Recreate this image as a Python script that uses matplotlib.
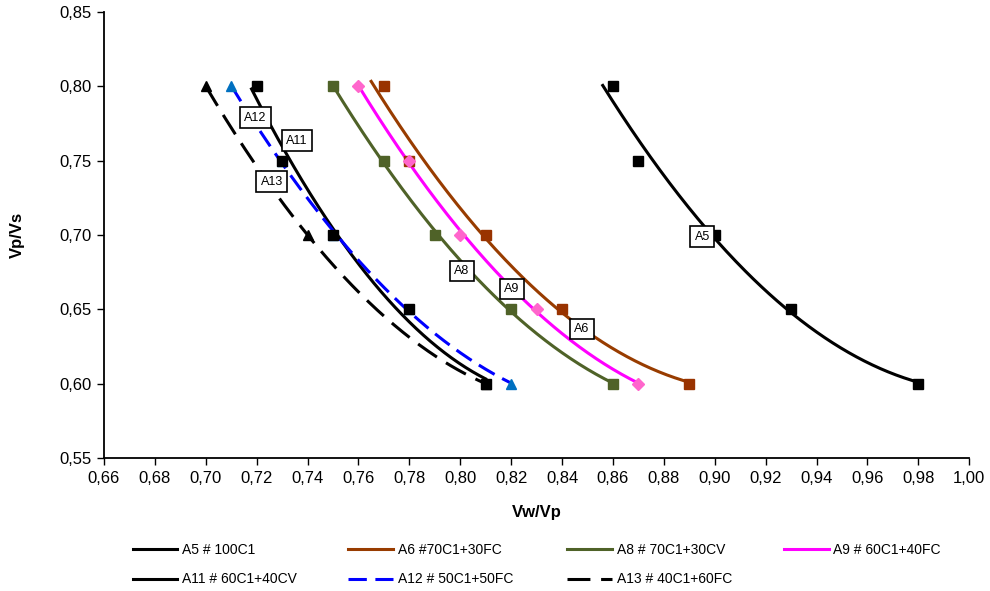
import numpy as np
import matplotlib
matplotlib.use('Agg')
import matplotlib.pyplot as plt
from matplotlib.ticker import FuncFormatter, MultipleLocator

plt.rcParams['font.family'] = ['Liberation Sans', 'DejaVu Sans']

NAMES = ('A5 # 100C1', 'A6 #70C1+30FC', 'A8 # 70C1+30CV', 'A9 # 60C1+40FC',
         'A11 # 60C1+40CV', 'A12 # 50C1+50FC', 'A13 # 40C1+60FC')
TAGS = ('A5', 'A6', 'A8', 'A9', 'A11', 'A12', 'A13')

X_A5 = [0.86, 0.87, 0.90, 0.93, 0.98]
X_A6 = [0.77, 0.78, 0.81, 0.84, 0.89]
X_A8 = [0.75, 0.77, 0.79, 0.82, 0.86]
X_A9 = [0.76, 0.78, 0.80, 0.83, 0.87]
X_A11 = [0.72, 0.73, 0.75, 0.78, 0.81]
X_A12 = [0.71, 0.73, 0.75, 0.78, 0.82]
X_A13 = [0.70, 0.74, 0.81]
Y_FIVE = [0.80, 0.75, 0.70, 0.65, 0.60]
Y_A13 = [0.80, 0.70, 0.60]

XS = (X_A5, X_A6, X_A8, X_A9, X_A11, X_A12, X_A13)
YS = (Y_FIVE, Y_FIVE, Y_FIVE, Y_FIVE, Y_FIVE, Y_FIVE, Y_A13)

# how far the trend line is drawn back before the first point
FIT_BACK = (0.004, 0.005, 0.0, 0.0, 0.002, 0.0, 0.0)

LINE_COLOR = ('black', '#983C00', '#4F6228', '#FF00FF', 'black', '#0000FF', 'black')
MARK_COLOR = ('black', '#993300', '#4F6228', '#FF66CC', 'black', '#0070C0', 'black')
MARKER = ('s', 's', 's', 'D', 's', '^', '^')
MSIZE = (7.5, 7.5, 7.5, 6, 7.5, 7, 7.5)
MARK_Z = (4, 4, 4, 4, 5, 3, 3)
DASH = (None, None, None, None, None, (6, 2.8), (7.5, 3.5))

# label box positions (data coords)
TAG_POS = ((0.8951, 0.6987), (0.8479, 0.6368), (0.8007, 0.6758), (0.8204, 0.6637),
           (0.7359, 0.7633), (0.7194, 0.7787), (0.7260, 0.7357))

fig = plt.figure(figsize=(9.9, 5.91), dpi=100)
ax = fig.add_axes([0.105, 0.225, 0.874, 0.755])

handles = []
for i in range(len(NAMES)):
    x = np.array(XS[i])
    y = np.array(YS[i])
    p = np.polyfit(x, y, 2)
    xf = np.linspace(x.min() - FIT_BACK[i], x.max(), 200)
    line, = ax.plot(xf, np.polyval(p, xf), color=LINE_COLOR[i], lw=2.2, label=NAMES[i],
                    zorder=2)
    if DASH[i] is not None:
        line.set_dashes(DASH[i])
    handles.append(line)
    ax.plot(x, y, linestyle='none', marker=MARKER[i], ms=MSIZE[i],
            color=MARK_COLOR[i], mec=MARK_COLOR[i], zorder=MARK_Z[i])

for i in range(len(TAGS)):
    ax.text(TAG_POS[i][0], TAG_POS[i][1], TAGS[i], fontsize=9, ha='center', va='center',
            zorder=6,
            bbox=dict(boxstyle='square,pad=0.35', fc='white', ec='black', lw=1.2))

ax.set_xlim(0.66, 1.00)
ax.set_ylim(0.55, 0.85)
ax.xaxis.set_major_locator(MultipleLocator(0.02))
ax.yaxis.set_major_locator(MultipleLocator(0.05))
comma = FuncFormatter(lambda v, pos: ('%.2f' % v).replace('.', ','))
ax.xaxis.set_major_formatter(comma)
ax.yaxis.set_major_formatter(comma)
ax.tick_params(direction='out', length=5, width=1, labelsize=12, pad=4)
ax.spines['top'].set_visible(False)
ax.spines['right'].set_visible(False)
ax.spines['left'].set_linewidth(1.3)
ax.spines['bottom'].set_linewidth(1.3)

ax.set_xlabel('Vw/Vp', fontsize=12, fontweight='bold', labelpad=14)
ax.set_ylabel('Vp/Vs', fontsize=12, fontweight='bold', labelpad=25)

# legend: four columns, filled row by row
COL_X = (0.134, 0.352, 0.573, 0.792)
columns = [[0, 4], [1, 5], [2, 6], [3]]
for c in range(4):
    fig.legend(handles=[handles[k] for k in columns[c]],
               labels=[NAMES[k] for k in columns[c]],
               loc='upper left', bbox_to_anchor=(COL_X[c], 0.081), frameon=False,
               fontsize=10, handlelength=3.2, handletextpad=0.35,
               labelspacing=1.1, borderpad=0, borderaxespad=0)

fig.savefig('out.png', dpi=100)
